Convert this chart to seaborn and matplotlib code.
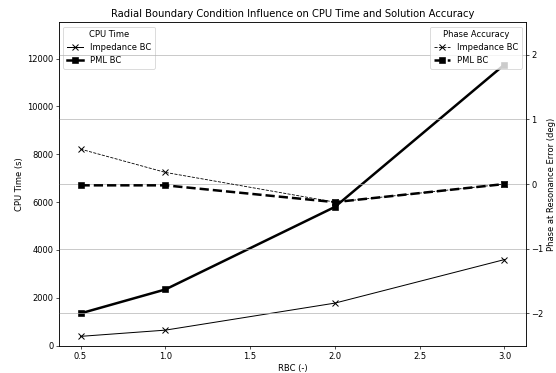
import matplotlib
matplotlib.use("Agg")
import matplotlib.pyplot as plt
import seaborn as sns
import pandas as pd

rbc = [0.5, 1.0, 2.0, 3.0]
cpu_impedance = [390, 650, 1780, 3600]
cpu_pml = [1350, 2350, 5800, 11750]
phase_impedance = [0.54, 0.18, -0.28, 0.0]
phase_pml = [-0.02, -0.02, -0.28, 0.0]

plt.rcParams['font.family'] = ['DejaVu Sans']

DPI = 60
fig, ax1 = plt.subplots(figsize=(556 / DPI, 373 / DPI), dpi=DPI)
fig.subplots_adjust(left=0.1067, right=0.9455, top=0.940, bottom=0.0732)

df = pd.DataFrame({"rbc": rbc, "cpu_imp": cpu_impedance, "cpu_pml": cpu_pml,
                   "ph_imp": phase_impedance, "ph_pml": phase_pml})

common = dict(color="black", markeredgecolor="black", markerfacecolor="black")
sns.lineplot(data=df, x="rbc", y="cpu_imp", ax=ax1, marker="x", markersize=7,
             linewidth=1.2, label="Impedance BC", markeredgewidth=1.2, **common)
sns.lineplot(data=df, x="rbc", y="cpu_pml", ax=ax1, marker="s", markersize=7,
             linewidth=3, label="PML BC", **common)
ax1.set_ylim(0, max(cpu_pml) * 1.15)
ax1.set_xlabel("RBC (-)")
ax1.set_ylabel("CPU Time (s)")
ax1.legend(loc="upper left", title="CPU Time")

ax2 = ax1.twinx()
sns.lineplot(data=df, x="rbc", y="ph_imp", ax=ax2, marker="x", markersize=7,
             linewidth=1.0, linestyle="--", label="Impedance BC",
             markeredgewidth=1.2, **common)
sns.lineplot(data=df, x="rbc", y="ph_pml", ax=ax2, marker="s", markersize=7,
             linewidth=3, linestyle="--", label="PML BC", **common)
ax2.set_ylim(-2.5, 2.5)
ax2.set_ylabel("Phase at Resonance Error (deg)")
ax2.grid(True, axis="y", color="#b0b0b0", linewidth=1.0, alpha=0.8)
ax2.legend(loc="upper right", title="Phase Accuracy")

ax1.set_title("Radial Boundary Condition Influence on CPU Time and Solution Accuracy",
              fontsize=12)

fig.savefig("out.png", dpi=DPI)
